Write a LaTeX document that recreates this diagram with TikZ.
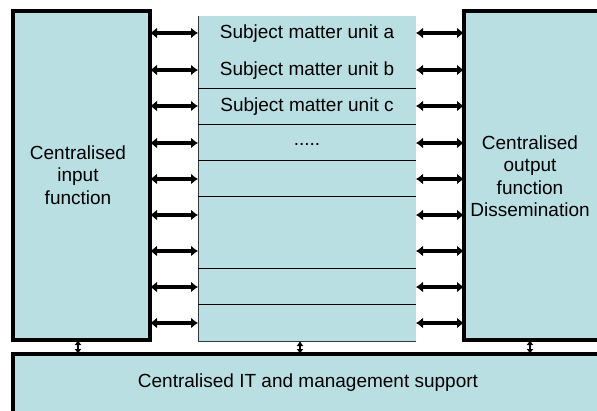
\documentclass[tikz,border=0pt]{standalone}
\usepackage{fontspec}
\setmainfont{Liberation Sans}
\usetikzlibrary{arrows.meta}
\definecolor{panel}{HTML}{B9DFE3}
\definecolor{rule}{HTML}{303838}
\begin{document}
\begin{tikzpicture}[x=1pt,y=-1pt,
  heavy/.style={draw=black,line width=3.2pt,fill=panel,inner sep=0pt,outer sep=0pt},
  plain/.style={fill=panel,inner sep=0pt,outer sep=0pt},
  linktip/.tip={Latex[length=7pt,width=11pt]},
  link/.style={linktip-linktip,line width=4pt},
  ticktip/.tip={Latex[length=5pt,width=7pt]},
  tick/.style={ticktip-ticktip,line width=2pt},
  lbl/.style={font=\fontsize{19}{22.5}\selectfont,align=center,inner sep=0pt}]
\clip (0,0) rectangle (597,410);
\useasboundingbox (0,0) rectangle (597,410);

% three main blocks and the support bar
\node[heavy,minimum width=137pt,minimum height=329pt] (inbox)  at (81.5,175.5) {};
\node[heavy,minimum width=160pt,minimum height=329pt] (outbox) at (544,175.5) {};
\node[heavy,minimum width=610pt,minimum height=80pt]  (itbar)  at (318,394) {};

% column of subject matter units
\node[plain,minimum width=218pt,minimum height=325pt] (col) at (307,178.5) {};
\draw[rule,line width=1pt] (col.north west) -- (col.south west) -- (col.south east);
\foreach \y in {88,124,160,196,268,304}
  \draw[black,line width=1pt] (col.west |- 0,\y) -- (col.east |- 0,\y);

% labels
\node[lbl] (ua) at (307,34) {Subject matter unit a};
\node[lbl] (ub) at (307,71) {Subject matter unit b};
\node[lbl] (uc) at (307,107) {Subject matter unit c};
\node[lbl] (ud) at (307,144) {.....};
\node[lbl] (tin) at (78,175) {Centralised\\input\\function};
\node[lbl] (tout) at (530,176) {Centralised\\output\\function\\Dissemination};
\node[lbl] (tit) at (308,383) {Centralised IT and management support};

% two-way links between the blocks and the unit column
\foreach \y [count=\i] in {33,70,106,143,179,215,251,287,323} {
  \coordinate (r\i) at (0,\y);
  \draw[link] (inbox.east |- r\i) -- (col.west |- r\i);
  \draw[link] (col.east |- r\i) -- (outbox.west |- r\i);
}

% links down to the support bar
\coordinate (c1) at (78,0);
\coordinate (c2) at (300,0);
\coordinate (c3) at (530,0);
\draw[tick] (inbox.south -| c1) -- (itbar.north -| c1);
\draw[tick] (col.south -| c2) -- (itbar.north -| c2);
\draw[tick] (outbox.south -| c3) -- (itbar.north -| c3);
\end{tikzpicture}
\end{document}
